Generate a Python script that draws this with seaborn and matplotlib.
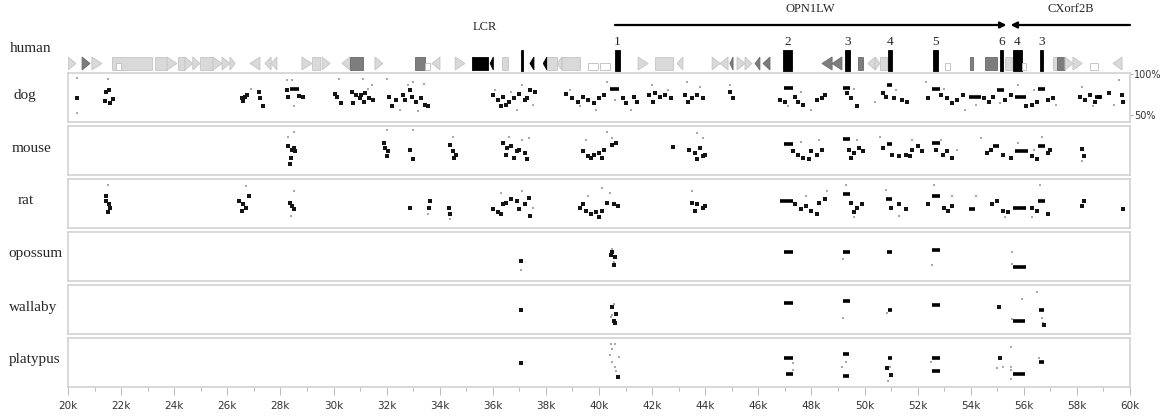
import matplotlib
matplotlib.use("Agg")
import matplotlib.pyplot as plt
from matplotlib.patches import Rectangle, Polygon
from matplotlib.ticker import MultipleLocator, FuncFormatter
import pandas as pd
import seaborn as sns

# ---------------------------------------------------------------
# data (positions in kb, conservation in %)
# ---------------------------------------------------------------
species = ["dog", "mouse", "rat", "opossum", "wallaby", "platypus"]

dog_dots = [(20.35, 70), (21.45, 78), (21.55, 80), (21.4, 67), (21.7, 69), (21.6, 64),
            (26.55, 70), (26.65, 72), (26.75, 74), (26.6, 67), (27.2, 78), (27.25, 70), (27.35, 60),
            (28.25, 80), (28.3, 72), (28.7, 73), (28.85, 72),
            (30.05, 75), (30.15, 72), (30.3, 64),
            (30.7, 78), (30.85, 74), (31.0, 70), (31.05, 74), (31.2, 77), (31.35, 70), (31.5, 68),
            (30.75, 64), (31.15, 66),
            (32.1, 72), (32.35, 68), (32.6, 74), (32.7, 68), (32.95, 72), (33.1, 66), (33.3, 70),
            (33.45, 62), (33.55, 60), (32.2, 60), (32.9, 80),
            (36.0, 74), (36.2, 68), (36.4, 72), (36.6, 66), (36.8, 70), (37.0, 75), (37.2, 68),
            (37.4, 80), (37.6, 78), (36.5, 62), (36.3, 60), (37.3, 70),
            (38.75, 75), (39.0, 70), (39.2, 66), (39.4, 72), (39.6, 68), (39.8, 64), (40.0, 70),
            (40.2, 74), (40.9, 70), (41.0, 64), (41.3, 72), (41.45, 66),
            (41.9, 74), (42.1, 76), (42.3, 72), (42.5, 74), (42.7, 70), (42.05, 66),
            (43.25, 74), (43.5, 70), (43.7, 74), (43.9, 70), (43.35, 66),
            (44.95, 78), (45.05, 70),
            (46.8, 68), (47.0, 66), (47.4, 72), (47.5, 65), (47.7, 62), (48.2, 68), (48.4, 70), (48.5, 74),
            (49.35, 76), (49.5, 70), (49.7, 60),
            (50.7, 76), (50.8, 72), (51.1, 70), (51.4, 68), (51.6, 66),
            (52.4, 70), (52.9, 74), (53.1, 70), (53.3, 64), (53.5, 68), (53.7, 74), (54.5, 70),
            (54.7, 66), (54.85, 72), (55.3, 68), (55.5, 74), (56.3, 62), (56.5, 66), (56.9, 68),
            (57.1, 70), (56.1, 60),
            (58.1, 72), (58.3, 68), (58.5, 74), (58.7, 66), (58.85, 72), (59.2, 76), (59.7, 74), (59.75, 66)]
dog_faint = [(20.35, 95), (20.35, 52), (21.5, 94), (26.9, 82), (28.25, 93), (28.45, 93), (28.5, 60),
             (30.2, 94), (31.1, 94), (31.3, 82), (31.45, 86), (32.0, 94), (32.8, 86), (33.0, 90),
             (33.4, 88), (32.5, 56), (33.2, 54), (36.1, 80), (36.7, 78), (37.1, 86), (36.9, 56),
             (37.5, 62), (38.9, 80), (39.3, 60), (39.9, 56), (40.3, 90), (40.6, 68), (41.2, 56),
             (42.0, 86), (42.6, 80), (43.3, 90), (43.8, 84), (44.95, 86), (47.1, 60), (47.6, 78),
             (48.0, 56), (49.6, 82), (50.4, 66), (51.2, 80), (52.3, 90), (53.0, 82), (53.8, 56),
             (54.2, 62), (55.1, 64), (55.8, 86), (56.4, 80), (57.2, 62), (58.2, 84), (58.6, 60),
             (59.4, 62), (59.6, 92)]
dog_bars = [(28.35, 28.7, 81), (40.4, 40.75, 82), (46.95, 47.3, 83), (49.2, 49.45, 83),
            (50.85, 51.05, 86), (52.55, 52.85, 82), (53.95, 54.4, 72), (55.0, 55.25, 80),
            (55.65, 56.1, 71), (56.55, 56.8, 82), (58.7, 58.95, 72)]

mouse_dots = [(28.3, 76), (28.45, 72), (28.55, 70), (28.5, 74), (28.4, 62), (28.35, 55),
              (31.9, 80), (31.95, 74), (32.05, 70), (32.0, 64), (32.9, 72), (33.0, 60),
              (34.4, 78), (34.5, 70), (34.6, 66), (34.55, 62),
              (36.4, 80), (36.55, 74), (36.7, 76), (36.9, 70), (37.0, 72), (37.2, 68), (36.5, 66),
              (36.8, 62), (37.3, 60),
              (39.4, 70), (39.6, 64), (39.8, 66), (40.0, 68), (40.2, 72), (40.5, 78), (40.65, 80),
              (40.1, 62), (39.7, 62), (42.8, 75),
              (43.4, 72), (43.6, 68), (43.8, 74), (44.0, 66), (43.7, 60), (43.9, 64),
              (47.3, 70), (47.5, 66), (47.7, 62), (48.0, 70), (48.2, 66), (48.4, 72), (47.9, 60),
              (49.4, 72), (49.6, 68), (49.8, 74), (49.95, 70), (49.5, 62),
              (50.7, 74), (51.05, 66), (51.3, 64), (51.55, 66), (51.8, 72), (52.0, 76), (52.15, 70),
              (51.7, 64), (52.7, 72), (52.95, 66), (53.1, 70), (53.3, 62),
              (54.6, 68), (54.75, 72), (55.2, 66), (55.5, 62), (56.3, 64), (56.5, 60), (56.9, 68),
              (57.0, 72), (58.2, 73), (58.25, 64)]
mouse_faint = [(28.5, 94), (28.3, 88), (32.0, 96), (33.0, 96), (34.5, 88), (36.6, 88), (37.1, 84),
               (37.35, 86), (39.5, 84), (40.3, 94), (40.5, 86), (43.7, 92), (43.9, 86), (47.6, 82),
               (48.3, 84), (49.7, 84), (50.6, 88), (51.8, 84), (52.9, 84), (53.5, 72), (54.4, 86),
               (55.8, 80), (56.7, 88), (56.4, 72), (58.2, 58)]
mouse_bars = [(46.95, 47.3, 79), (49.2, 49.45, 85), (50.85, 51.05, 79), (52.55, 52.85, 80),
              (54.85, 55.05, 77), (55.65, 56.15, 71), (56.55, 56.8, 76)]

rat_dots = [(21.45, 74), (21.55, 70), (21.6, 66), (21.5, 60), (21.45, 80),
            (26.45, 74), (26.6, 70), (26.7, 66), (26.55, 62), (26.8, 80),
            (28.35, 72), (28.45, 68), (28.5, 64),
            (32.9, 66), (33.6, 66), (33.65, 74), (34.35, 66), (34.4, 58),
            (36.0, 64), (36.2, 60), (36.4, 70), (36.5, 72), (36.7, 76), (36.9, 74), (37.0, 64),
            (37.2, 70), (37.4, 56), (36.3, 58), (37.35, 78),
            (39.3, 66), (39.5, 62), (39.7, 58), (39.9, 60), (40.1, 62), (40.3, 72), (40.55, 70),
            (40.7, 68), (39.4, 70), (40.0, 55),
            (43.5, 72), (43.7, 70), (43.9, 66), (44.0, 68), (43.6, 62),
            (47.4, 70), (47.6, 64), (47.8, 68), (48.0, 62), (48.3, 72), (48.5, 76), (48.2, 58),
            (49.5, 72), (49.7, 66), (49.9, 70), (49.6, 60),
            (51.0, 66), (51.3, 70), (51.55, 64),
            (52.4, 70), (53.0, 66), (53.15, 62), (53.3, 68),
            (54.8, 70), (55.0, 74), (55.2, 62), (55.4, 60), (56.3, 66), (56.5, 62), (56.9, 58),
            (58.2, 68), (58.25, 74), (59.75, 64)]
rat_faint = [(21.5, 94), (26.7, 92), (28.5, 86), (28.4, 56), (33.55, 58), (34.4, 52), (36.3, 84),
             (37.1, 86), (37.5, 66), (39.6, 80), (40.1, 90), (40.4, 84), (43.5, 86), (47.8, 80),
             (48.6, 86), (49.3, 94), (49.6, 54), (50.8, 88), (51.3, 56), (52.6, 94), (53.3, 80),
             (54.2, 80), (55.3, 54), (56.6, 94), (56.3, 54)]
rat_bars = [(46.8, 47.3, 74), (49.2, 49.45, 83), (50.8, 51.05, 77), (52.55, 52.85, 80),
            (53.95, 54.15, 64), (55.6, 56.1, 65), (56.55, 56.8, 74)]

opossum_dots = [(37.06, 66), (40.45, 73), (40.5, 76), (40.6, 71), (40.55, 60)]
opossum_faint = [(37.05, 54), (40.55, 64), (40.5, 80), (49.2, 68), (52.55, 60), (55.55, 76), (55.55, 62)]
opossum_bars = [(46.95, 47.3, 77), (49.2, 49.45, 77), (50.85, 51.05, 77), (52.55, 52.85, 79),
                (55.6, 56.1, 58)]

wallaby_dots = [(37.07, 70), (40.5, 74), (40.65, 66), (40.55, 57), (40.6, 54), (55.06, 74), (56.75, 52)]
wallaby_faint = [(40.55, 78), (40.5, 64), (40.45, 62), (49.2, 60), (50.85, 67), (55.55, 59),
                 (55.95, 84), (56.5, 93), (56.7, 61), (56.72, 55)]
wallaby_bars = [(46.95, 47.3, 79), (49.2, 49.45, 81), (50.9, 51.05, 71), (52.55, 52.85, 77),
                (55.6, 56.05, 57), (56.58, 56.75, 71)]

platypus_dots = [(37.07, 71), (40.7, 53), (51.0, 56), (50.85, 64), (55.1, 76)]
platypus_faint = [(40.45, 94), (40.6, 94), (40.5, 88), (40.4, 80), (40.75, 78), (40.5, 72),
                  (40.6, 66), (40.65, 60), (47.3, 70), (47.3, 62), (49.3, 72), (49.15, 66),
                  (50.95, 66), (50.9, 48), (52.5, 72), (55.0, 64), (55.2, 66), (55.5, 90),
                  (55.52, 66), (55.5, 62), (55.5, 51), (56.58, 76)]
platypus_bars = [(46.95, 47.3, 76), (47.05, 47.3, 57), (49.2, 49.42, 82), (49.2, 49.42, 54),
                 (50.9, 51.05, 77), (52.55, 52.85, 77), (52.55, 52.85, 61), (55.6, 56.05, 57),
                 (56.58, 56.75, 72)]

tracks = {
    "dog": (dog_dots, dog_faint, dog_bars),
    "mouse": (mouse_dots, mouse_faint, mouse_bars),
    "rat": (rat_dots, rat_faint, rat_bars),
    "opossum": (opossum_dots, opossum_faint, opossum_bars),
    "wallaby": (wallaby_dots, wallaby_faint, wallaby_bars),
    "platypus": (platypus_dots, platypus_faint, platypus_bars),
}

# human annotation: (start kb, end kb, kind, shade)
# kind: R/L = triangles, B = box, W = empty box, E = exon / tall black mark
human_features = [
    (20.0, 20.3, "R", "light"), (20.53, 20.83, "R", "mid"), (20.9, 21.28, "R", "light"),
    (21.66, 23.16, "B", "light"), (21.8, 22.0, "W", "light"), (23.28, 23.73, "B", "light"),
    (23.73, 24.1, "R", "light"), (24.14, 24.4, "B", "light"), (24.4, 24.7, "R", "light"),
    (24.7, 24.97, "R", "light"), (24.97, 25.46, "B", "light"), (25.46, 25.8, "R", "light"),
    (25.8, 26.1, "R", "light"), (26.1, 26.3, "R", "light"),
    (26.85, 27.23, "L", "light"), (27.42, 27.65, "L", "light"), (27.65, 27.87, "L", "light"),
    (28.81, 29.19, "R", "light"), (29.19, 29.49, "B", "light"), (29.57, 29.87, "R", "light"),
    (30.32, 30.62, "L", "light"), (30.62, 31.11, "B", "mid"), (31.56, 31.86, "R", "light"),
    (33.07, 33.45, "B", "mid"), (33.45, 33.63, "W", "light"), (33.71, 34.01, "L", "light"),
    (34.58, 34.95, "R", "light"), (35.22, 35.82, "B", "dark"), (35.9, 36.02, "L", "dark"),
    (36.35, 36.57, "B", "light"), (37.06, 37.14, "E", "dark"), (37.4, 37.55, "L", "dark"),
    (37.9, 38.04, "L", "dark"), (38.04, 38.42, "B", "light"), (38.42, 38.6, "L", "light"),
    (38.6, 39.28, "B", "light"), (39.59, 39.96, "W", "light"), (40.04, 40.41, "W", "light"),
    (40.6, 40.79, "E", "dark"),
    (41.47, 41.85, "R", "light"), (42.1, 42.79, "B", "light"), (42.94, 43.16, "L", "light"),
    (44.26, 44.56, "R", "light"), (44.56, 44.86, "L", "light"), (44.93, 45.05, "L", "mid"),
    (45.2, 45.5, "R", "light"), (45.5, 45.76, "R", "light"), (45.88, 46.06, "L", "mid"),
    (46.18, 46.44, "L", "mid"), (46.93, 47.27, "E", "dark"),
    (48.4, 48.78, "L", "mid"), (48.78, 49.15, "L", "mid"), (49.27, 49.45, "E", "dark"),
    (49.76, 49.94, "B", "mid"), (50.13, 50.4, "L", "light"), (50.4, 50.58, "R", "light"),
    (50.58, 50.85, "B", "light"), (50.88, 51.04, "E", "dark"),
    (52.58, 52.77, "E", "dark"), (53.03, 53.22, "W", "light"),
    (53.97, 54.09, "B", "mid"), (54.54, 54.99, "B", "mid"), (55.1, 55.22, "E", "dark"),
    (55.29, 55.56, "B", "light"), (55.6, 55.93, "E", "dark"), (55.93, 56.08, "W", "light"),
    (56.61, 56.72, "E", "dark"),
    (57.1, 57.55, "B", "light"), (57.25, 57.5, "B", "mid"), (57.55, 57.85, "R", "light"),
    (57.85, 58.2, "R", "light"), (58.49, 58.8, "W", "light"), (59.36, 59.7, "L", "light"),
]
exon_labels = [(40.68, "1"), (47.1, "2"), (49.36, "3"), (50.96, "4"), (52.68, "5"),
               (55.16, "6"), (55.76, "4"), (56.66, "3")]
genes = [("OPN1LW", 40.6, 55.35), ("CXorf2B", 60.0, 55.5)]
lcr_pos = 35.7

# ---------------------------------------------------------------
sns.set_theme(style="white")
plt.rcParams["font.family"] = ["Liberation Serif", "DejaVu Serif"]
narrow = ["Liberation Sans Narrow", "DejaVu Sans"]

W, H = 1161, 417
fig = plt.figure(figsize=(W / 100, H / 100), dpi=100)
x0, xw = 68 / W, 1062 / W

shade = {"light": "#d9d9d9", "mid": "#7d7d7d", "dark": "#000000"}
edge = {"light": "#c4c4c4", "mid": "#6a6a6a", "dark": "#000000"}

# human annotation track (y in pixel-like units from the top)
hax = fig.add_axes([x0, 1 - 72 / H, xw, 72 / H])
hax.set_xlim(20, 60)
hax.set_ylim(72, 0)
hax.axis("off")
y_top, y_bot = 57, 70
for s, e, kind, sh in human_features:
    ym = (y_top + y_bot) / 2
    if kind == "R":
        p = Polygon([(s, y_top), (s, y_bot), (e, ym)], closed=True)
    elif kind == "L":
        p = Polygon([(e, y_top), (e, y_bot), (s, ym)], closed=True)
    elif kind == "B":
        p = Rectangle((s, y_top), e - s, y_bot - y_top)
    elif kind == "W":
        p = Rectangle((s, 63), e - s, 7)
    else:
        p = Rectangle((s, 50), e - s, 21)
    if kind == "W":
        p.set_facecolor("white")
        p.set_edgecolor("#bdbdbd")
    else:
        p.set_facecolor(shade[sh])
        p.set_edgecolor(edge[sh])
    p.set_linewidth(0.6)
    hax.add_patch(p)

for pos, lab in exon_labels:
    hax.text(pos, 42, lab, ha="center", va="center", fontsize=9.5)
for name, start, end in genes:
    hax.annotate("", xy=(end, 25), xytext=(start, 25),
                 arrowprops=dict(arrowstyle="-|>", lw=1.6, color="black", mutation_scale=9,
                                 shrinkA=0, shrinkB=0), annotation_clip=False)
    hax.text((start + end) / 2, 9, name, ha="center", va="center", fontsize=9)
hax.text(lcr_pos, 27, "LCR", ha="center", va="center", fontsize=9)

fig.text(10 / W, 1 - 48 / H, "human", fontsize=11, va="center", ha="left")

# conservation panels
tops = [73, 126, 179, 232, 285, 338]
panel_h = 49
label_x = {"dog": 14, "mouse": 12, "rat": 18, "opossum": 8, "wallaby": 9, "platypus": 9}

for i, sp in enumerate(species):
    top = tops[i]
    ax = fig.add_axes([x0, 1 - (top + panel_h) / H, xw, panel_h / H])
    dots, faint, bars = tracks[sp]
    fdf = pd.DataFrame(faint, columns=["kb", "pct"])
    ddf = pd.DataFrame(dots, columns=["kb", "pct"])
    sns.scatterplot(data=fdf, x="kb", y="pct", ax=ax, color="#a8a8a8", marker="s",
                    s=2.5, linewidth=0, legend=False)
    sns.scatterplot(data=ddf, x="kb", y="pct", ax=ax, color="#151515", marker="s",
                    s=5.5, linewidth=0, legend=False)
    for s, e, p in bars:
        ax.hlines(p, s, e, color="black", lw=2.6)
    ax.set_xlim(20, 60)
    ax.set_ylim(41, 101)
    ax.set_xlabel("")
    ax.set_ylabel("")
    for spine in ax.spines.values():
        spine.set_color("#d2d2d2")
        spine.set_linewidth(1.2)
    ax.set_yticks([])
    if sp == "dog":
        ax.yaxis.tick_right()
        ax.set_yticks([100, 50])
        ax.set_yticklabels(["100%", "50%"], family=narrow, fontsize=7, color="#333333")
        ax.tick_params(axis="y", which="major", right=True, length=2.5, width=0.6,
                       color="#999999", pad=0.5)
    if i == len(species) - 1:
        ax.xaxis.set_major_locator(MultipleLocator(2))
        ax.xaxis.set_minor_locator(MultipleLocator(1))
        ax.xaxis.set_major_formatter(FuncFormatter(lambda v, _: f"{int(v)}k"))
        ax.tick_params(axis="x", which="major", bottom=True, length=6, width=0.6,
                       color="#b0b0b0", pad=4, labelsize=7.5, labelcolor="#333333")
        ax.tick_params(axis="x", which="minor", bottom=True, length=3, width=0.6, color="#b0b0b0")
        for t in ax.get_xticklabels():
            t.set_family(narrow)
    else:
        ax.set_xticks([])
    fig.text(label_x[sp] / W, 1 - (top + 22) / H, sp, fontsize=11, va="center", ha="left")

fig.savefig("out.png", dpi=100)
